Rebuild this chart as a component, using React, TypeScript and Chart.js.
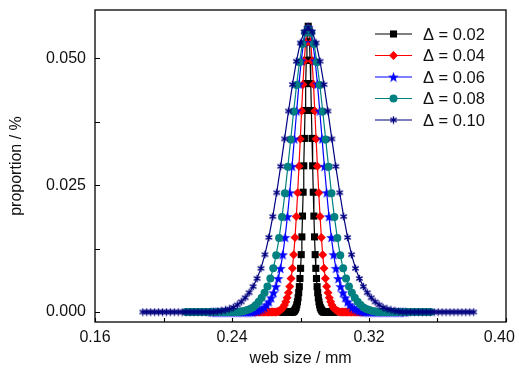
import React, { useEffect, useRef } from "react";
import { Chart, registerables } from "chart.js";
import { drawPoint } from "chart.js/helpers";

Chart.register(...registerables);

// ---- data -------------------------------------------------------------
const seriesLabels = ["Δ = 0.02", "Δ = 0.04", "Δ = 0.06", "Δ = 0.08", "Δ = 0.10"];

const x002 = [0.26896, 0.26933, 0.2697, 0.27007, 0.27044, 0.27081, 0.27118, 0.27155, 0.27192, 0.27229,
  0.27266, 0.27303, 0.2734, 0.27377, 0.27414, 0.27451, 0.27488, 0.27525, 0.27562, 0.27599,
  0.27636, 0.27673, 0.2771, 0.27747, 0.27784, 0.27821, 0.27858, 0.27895, 0.27932, 0.27969,
  0.28006, 0.28043, 0.2808, 0.28117, 0.28154, 0.28191, 0.28228, 0.28265, 0.28302, 0.28339,
  0.28376, 0.28413, 0.2845, 0.28487, 0.28524, 0.28561, 0.28598, 0.28635, 0.28672, 0.28709,
  0.28746, 0.28783, 0.2882, 0.28857, 0.28894, 0.28931, 0.28968, 0.29005, 0.29042, 0.29079,
  0.29116, 0.29153, 0.2919, 0.29227, 0.29264, 0.29301, 0.29338, 0.29375, 0.29412, 0.29449,
  0.29486, 0.29523, 0.2956, 0.29597, 0.29634, 0.29671, 0.29708, 0.29745, 0.29782, 0.29819,
  0.29856, 0.29893, 0.2993, 0.29967, 0.30004];
const y002 = [0, 0, 0, 0, 0, 0, 0, 0, 0, 0, 0, 0, 0, 0, 0, 0, 0, 0, 0,
  0.0001, 0.0002, 0.0004, 0.0006, 0.0009, 0.0014, 0.0020, 0.0028, 0.0038, 0.0050, 0.0066, 0.0086,
  0.0113, 0.0148, 0.0189, 0.0236, 0.0288, 0.0342, 0.0397, 0.0450, 0.0496, 0.0532, 0.0555,
  0.0563,
  0.0555, 0.0532, 0.0496, 0.0450, 0.0397, 0.0342, 0.0288, 0.0236, 0.0189, 0.0148, 0.0113,
  0.0086, 0.0066, 0.0050, 0.0038, 0.0028, 0.0020, 0.0014, 0.0009, 0.0006, 0.0004, 0.0002, 0.0001,
  0, 0, 0, 0, 0, 0, 0, 0, 0, 0, 0, 0, 0, 0, 0, 0, 0, 0, 0];

const x004 = [0.25216, 0.25293, 0.2537, 0.25447, 0.25524, 0.25601, 0.25678, 0.25755, 0.25832, 0.25909,
  0.25986, 0.26063, 0.2614, 0.26217, 0.26294, 0.26371, 0.26448, 0.26525, 0.26602, 0.26679,
  0.26756, 0.26833, 0.2691, 0.26987, 0.27064, 0.27141, 0.27218, 0.27295, 0.27372, 0.27449,
  0.27526, 0.27603, 0.2768, 0.27757, 0.27834, 0.27911, 0.27988, 0.28065, 0.28142, 0.28219,
  0.28296, 0.28373, 0.2845, 0.28527, 0.28604, 0.28681, 0.28758, 0.28835, 0.28912, 0.28989,
  0.29066, 0.29143, 0.2922, 0.29297, 0.29374, 0.29451, 0.29528, 0.29605, 0.29682, 0.29759,
  0.29836, 0.29913, 0.2999, 0.30067, 0.30144, 0.30221, 0.30298, 0.30375, 0.30452, 0.30529,
  0.30606, 0.30683, 0.3076, 0.30837, 0.30914, 0.30991, 0.31068, 0.31145, 0.31222, 0.31299,
  0.31376, 0.31453, 0.3153, 0.31607, 0.31684];
const y004 = [0, 0, 0, 0, 0, 0, 0, 0, 0, 0, 0, 0, 0, 0, 0, 0, 0, 0, 0,
  0.0001, 0.0002, 0.0004, 0.0006, 0.0009, 0.0014, 0.0020, 0.0028, 0.0038, 0.0050, 0.0066, 0.0086,
  0.0113, 0.0147, 0.0188, 0.0235, 0.0287, 0.0341, 0.0396, 0.0448, 0.0494, 0.0530, 0.0552,
  0.0560,
  0.0552, 0.0530, 0.0494, 0.0448, 0.0396, 0.0341, 0.0287, 0.0235, 0.0188, 0.0147, 0.0113,
  0.0086, 0.0066, 0.0050, 0.0038, 0.0028, 0.0020, 0.0014, 0.0009, 0.0006, 0.0004, 0.0002, 0.0001,
  0, 0, 0, 0, 0, 0, 0, 0, 0, 0, 0, 0, 0, 0, 0, 0, 0, 0, 0];

const x006 = [0.2278, 0.22915, 0.2305, 0.23185, 0.2332, 0.23455, 0.2359, 0.23725, 0.2386, 0.23995,
  0.2413, 0.24265, 0.244, 0.24535, 0.2467, 0.24805, 0.2494, 0.25075, 0.2521, 0.25345,
  0.2548, 0.25615, 0.2575, 0.25885, 0.2602, 0.26155, 0.2629, 0.26425, 0.2656, 0.26695,
  0.2683, 0.26965, 0.271, 0.27235, 0.2737, 0.27505, 0.2764, 0.27775, 0.2791, 0.28045,
  0.2818, 0.28315, 0.2845, 0.28585, 0.2872, 0.28855, 0.2899, 0.29125, 0.2926, 0.29395,
  0.2953, 0.29665, 0.298, 0.29935, 0.3007, 0.30205, 0.3034, 0.30475, 0.3061, 0.30745,
  0.3088, 0.31015, 0.3115, 0.31285, 0.3142, 0.31555, 0.3169, 0.31825, 0.3196, 0.32095,
  0.3223, 0.32365, 0.325, 0.32635, 0.3277, 0.32905, 0.3304, 0.33175, 0.3331, 0.33445,
  0.3358, 0.33715, 0.3385, 0.33985, 0.3412];
const y006 = [0, 0, 0, 0, 0, 0, 0, 0, 0, 0, 0, 0, 0, 0, 0, 0, 0, 0, 0,
  0.0001, 0.0002, 0.0004, 0.0006, 0.0009, 0.0014, 0.0020, 0.0028, 0.0038, 0.0050, 0.0066, 0.0086,
  0.0113, 0.0147, 0.0188, 0.0235, 0.0287, 0.0341, 0.0396, 0.0449, 0.0495, 0.0531, 0.0553,
  0.0561,
  0.0553, 0.0531, 0.0495, 0.0449, 0.0396, 0.0341, 0.0287, 0.0235, 0.0188, 0.0147, 0.0113,
  0.0086, 0.0066, 0.0050, 0.0038, 0.0028, 0.0020, 0.0014, 0.0009, 0.0006, 0.0004, 0.0002, 0.0001,
  0, 0, 0, 0, 0, 0, 0, 0, 0, 0, 0, 0, 0, 0, 0, 0, 0, 0, 0];

const x008 = [0.2131, 0.2148, 0.2165, 0.2182, 0.2199, 0.2216, 0.2233, 0.225, 0.2267, 0.2284,
  0.2301, 0.2318, 0.2335, 0.2352, 0.2369, 0.2386, 0.2403, 0.242, 0.2437, 0.2454,
  0.2471, 0.2488, 0.2505, 0.2522, 0.2539, 0.2556, 0.2573, 0.259, 0.2607, 0.2624,
  0.2641, 0.2658, 0.2675, 0.2692, 0.2709, 0.2726, 0.2743, 0.276, 0.2777, 0.2794,
  0.2811, 0.2828, 0.2845, 0.2862, 0.2879, 0.2896, 0.2913, 0.293, 0.2947, 0.2964,
  0.2981, 0.2998, 0.3015, 0.3032, 0.3049, 0.3066, 0.3083, 0.31, 0.3117, 0.3134,
  0.3151, 0.3168, 0.3185, 0.3202, 0.3219, 0.3236, 0.3253, 0.327, 0.3287, 0.3304,
  0.3321, 0.3338, 0.3355, 0.3372, 0.3389, 0.3406, 0.3423, 0.344, 0.3457, 0.3474,
  0.3491, 0.3508, 0.3525, 0.3542, 0.3559];
const y008 = [0, 0, 0, 0, 0, 0, 0, 0, 0, 0, 0, 0, 0, 0, 0, 0, 0, 0, 0,
  0.0001, 0.0002, 0.0004, 0.0006, 0.0009, 0.0014, 0.0020, 0.0028, 0.0038, 0.0050, 0.0066, 0.0086,
  0.0112, 0.0146, 0.0187, 0.0234, 0.0286, 0.0340, 0.0395, 0.0447, 0.0492, 0.0528, 0.0550,
  0.0558,
  0.0550, 0.0528, 0.0492, 0.0447, 0.0395, 0.0340, 0.0286, 0.0234, 0.0187, 0.0146, 0.0112,
  0.0086, 0.0066, 0.0050, 0.0038, 0.0028, 0.0020, 0.0014, 0.0009, 0.0006, 0.0004, 0.0002, 0.0001,
  0, 0, 0, 0, 0, 0, 0, 0, 0, 0, 0, 0, 0, 0, 0, 0, 0, 0, 0];

const x010 = [0.1879, 0.1902, 0.1925, 0.1948, 0.1971, 0.1994, 0.2017, 0.204, 0.2063, 0.2086,
  0.2109, 0.2132, 0.2155, 0.2178, 0.2201, 0.2224, 0.2247, 0.227, 0.2293, 0.2316,
  0.2339, 0.2362, 0.2385, 0.2408, 0.2431, 0.2454, 0.2477, 0.25, 0.2523, 0.2546,
  0.2569, 0.2592, 0.2615, 0.2638, 0.2661, 0.2684, 0.2707, 0.273, 0.2753, 0.2776,
  0.2799, 0.2822, 0.2845, 0.2868, 0.2891, 0.2914, 0.2937, 0.296, 0.2983, 0.3006,
  0.3029, 0.3052, 0.3075, 0.3098, 0.3121, 0.3144, 0.3167, 0.319, 0.3213, 0.3236,
  0.3259, 0.3282, 0.3305, 0.3328, 0.3351, 0.3374, 0.3397, 0.342, 0.3443, 0.3466,
  0.3489, 0.3512, 0.3535, 0.3558, 0.3581, 0.3604, 0.3627, 0.365, 0.3673, 0.3696,
  0.3719, 0.3742, 0.3765, 0.3788, 0.3811];
const y010 = [0, 0, 0, 0, 0, 0, 0, 0, 0, 0, 0, 0, 0, 0, 0, 0, 0, 0, 0,
  0.0001, 0.0002, 0.0004, 0.0006, 0.0009, 0.0014, 0.0020, 0.0028, 0.0038, 0.0050, 0.0066, 0.0086,
  0.0113, 0.0147, 0.0188, 0.0235, 0.0287, 0.0341, 0.0396, 0.0448, 0.0494, 0.0530, 0.0552,
  0.0560,
  0.0552, 0.0530, 0.0494, 0.0448, 0.0396, 0.0341, 0.0287, 0.0235, 0.0188, 0.0147, 0.0113,
  0.0086, 0.0066, 0.0050, 0.0038, 0.0028, 0.0020, 0.0014, 0.0009, 0.0006, 0.0004, 0.0002, 0.0001,
  0, 0, 0, 0, 0, 0, 0, 0, 0, 0, 0, 0, 0, 0, 0, 0, 0, 0, 0];

const xTicks = [0.16, 0.24, 0.32, 0.4];
const xMinorTicks = [0.2, 0.28, 0.36];
const yTicks = [0, 0.025, 0.05];
const yMinorTicks = [0.0125, 0.0375];

// ---- marker images ------------------------------------------------------
function makeStar(color: string, size: number) {
  const c = document.createElement("canvas");
  c.width = size;
  c.height = size;
  const g = c.getContext("2d")!;
  const cx = size / 2, cy = size / 2 + 0.5, R = size / 2, r = R * 0.42;
  g.beginPath();
  for (let i = 0; i < 10; i++) {
    const a = -Math.PI / 2 + (i * Math.PI) / 5;
    const rr = i % 2 === 0 ? R : r;
    g.lineTo(cx + rr * Math.cos(a), cy + rr * Math.sin(a));
  }
  g.closePath();
  g.fillStyle = color;
  g.fill();
  return c;
}

function makeAsterisk(color: string, size: number) {
  const c = document.createElement("canvas");
  c.width = size;
  c.height = size;
  const g = c.getContext("2d")!;
  const cx = size / 2, cy = size / 2, R = size / 2 - 0.8;
  g.strokeStyle = color;
  g.lineWidth = 1.4;
  g.beginPath();
  for (let i = 0; i < 3; i++) {
    const a = Math.PI / 2 + (i * Math.PI) / 3;
    g.moveTo(cx + R * Math.cos(a), cy + R * Math.sin(a));
    g.lineTo(cx - R * Math.cos(a), cy - R * Math.sin(a));
  }
  g.stroke();
  return c;
}

function toPoints(xs: number[], ys: number[]) {
  return xs.map((x, i) => ({ x, y: ys[i] }));
}

const FONT = "'Liberation Sans', Arial, sans-serif";

export default function App() {
  const ref = useRef<HTMLCanvasElement | null>(null);

  useEffect(() => {
    if (!ref.current) return;
    const starImg = makeStar("#0000ff", 11);
    const astImg = makeAsterisk("#000080", 9);

    const colors = ["#000000", "#ff0000", "#0000ff", "#008080", "#000080"];
    const styles: any[] = ["rect", "rectRot", starImg, "circle", astImg];
    const radii = [5, 4.5, 5, 4, 4.5];
    const xs = [x002, x004, x006, x008, x010];
    const ys = [y002, y004, y006, y008, y010];

    const base = seriesLabels.map((label, i) => ({
      label,
      data: toPoints(xs[i], ys[i]),
      borderColor: colors[i],
      backgroundColor: colors[i],
      borderWidth: 1.2,
      pointStyle: styles[i],
      pointRadius: radii[i],
      pointBorderWidth: 0,
      pointBackgroundColor: colors[i],
      pointBorderColor: colors[i],
      tension: 0,
    }));
    // widest distribution drawn on top
    const datasets = base.slice().reverse();

    const framePlugin = {
      id: "frame",
      afterDraw(chart: any) {
        const { ctx, chartArea: a, scales } = chart;
        ctx.save();
        ctx.strokeStyle = "#000";
        ctx.lineWidth = 1.3;
        ctx.strokeRect(a.left, a.top, a.right - a.left, a.bottom - a.top);
        ctx.lineWidth = 1.1;
        ctx.beginPath();
        [...xTicks, ...xMinorTicks].forEach((v) => {
          const px = Math.round(scales.x.getPixelForValue(v)) + 0.5;
          ctx.moveTo(px, a.bottom);
          ctx.lineTo(px, a.bottom - 4);
        });
        [...yTicks, ...yMinorTicks].forEach((v) => {
          const py = Math.round(scales.y.getPixelForValue(v)) + 0.5;
          ctx.moveTo(a.left, py);
          ctx.lineTo(a.left + 5, py);
        });
        ctx.stroke();

        // legend
        const lx0 = a.right - 131, lx1 = a.right - 94, tx = a.right - 83;
        ctx.font = `16.5px ${FONT}`;
        ctx.textBaseline = "middle";
        ctx.textAlign = "left";
        base.forEach((d, i) => {
          const y = a.top + 24 + i * 21.5;
          ctx.strokeStyle = d.borderColor;
          ctx.lineWidth = 1.2;
          ctx.beginPath();
          ctx.moveTo(lx0, y);
          ctx.lineTo(lx1, y);
          ctx.stroke();
          ctx.fillStyle = d.borderColor;
          ctx.strokeStyle = d.borderColor;
          drawPoint(ctx, { pointStyle: d.pointStyle, rotation: 0, radius: d.pointRadius, borderWidth: 0 }, (lx0 + lx1) / 2, y);
          ctx.fillStyle = "#111";
          ctx.fillText(d.label, tx, y + 1);
        });
        ctx.restore();
      },
    };

    const chart = new Chart(ref.current, {
      type: "line",
      data: { datasets: datasets as any },
      options: {
        animation: false,
        responsive: true,
        maintainAspectRatio: false,
        devicePixelRatio: 1,
        layout: { padding: { left: 0, right: 13, top: 10, bottom: 0 } },
        plugins: { legend: { display: false }, tooltip: { enabled: false } },
        scales: {
          x: {
            type: "linear",
            min: 0.16,
            max: 0.4,
            grid: { display: false, drawTicks: false },
            border: { display: false },
            afterBuildTicks: (s: any) => {
              s.ticks = xTicks.map((v) => ({ value: v }));
            },
            afterFit: (s: any) => {
              s.height = 47;
              s.paddingLeft = 0;
              s.paddingRight = 0;
            },
            ticks: {
              padding: 6,
              maxRotation: 0,
              autoSkip: false,
              color: "#111",
              font: { size: 16, family: FONT },
              callback: (v: any) => (Math.abs(Number(v) - 0.4) < 1e-9 ? "0.40   " : Number(v).toFixed(2)),
            },
            title: {
              display: true,
              text: "web size / mm",
              color: "#111",
              font: { size: 16, family: FONT },
              padding: { top: 0, bottom: 1 },
            },
          },
          y: {
            type: "linear",
            min: -0.00197,
            max: 0.0595,
            grid: { display: false, drawTicks: false },
            border: { display: false },
            afterBuildTicks: (s: any) => {
              s.ticks = yTicks.map((v) => ({ value: v }));
            },
            afterFit: (s: any) => {
              s.width = 95;
              s.paddingTop = 0;
              s.paddingBottom = 0;
            },
            ticks: {
              padding: 9,
              color: "#111",
              font: { size: 16, family: FONT },
              callback: (v: any) => Number(v).toFixed(3),
            },
            title: {
              display: true,
              text: "proportion / %",
              color: "#111",
              font: { size: 16, family: FONT },
              padding: { top: 7, bottom: 0 },
            },
          },
        },
      },
      plugins: [framePlugin],
    });
    return () => chart.destroy();
  }, []);

  return (
    <div style={{ position: "fixed", left: 0, top: 0, width: 519, height: 369, background: "#fff" }}>
      <canvas ref={ref} />
    </div>
  );
}
